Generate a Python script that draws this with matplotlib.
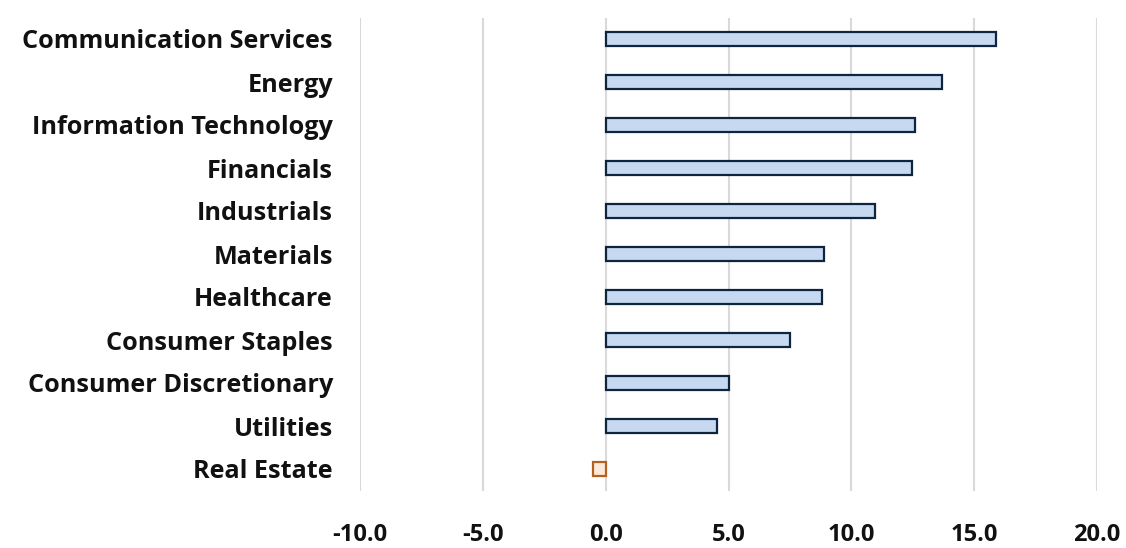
import matplotlib
matplotlib.use("Agg")
import matplotlib.pyplot as plt

categories = ["Communication Services", "Energy", "Information Technology", "Financials",
              "Industrials", "Materials", "Healthcare", "Consumer Staples",
              "Consumer Discretionary", "Utilities", "Real Estate"]
values = [15.9, 13.7, 12.6, 12.45, 10.95, 8.9, 8.8, 7.5, 5.0, 4.55, -0.5]
xticks = [-10, -5, 0, 5, 10, 15, 20]
xticklabels = ["-10.0", "-5.0", "0.0", "5.0", "10.0", "15.0", "20.0"]

plt.rcParams['font.family'] = ['Open Sans', 'DejaVu Sans']

fig = plt.figure(figsize=(11.26, 5.48), dpi=100)
ax = fig.add_axes([360/1126, 1-490.5/548, (1097-360)/1126, (490.5-17.5)/548])

pos = list(range(len(categories)))
faces = ["#C6D9F1" if v >= 0 else "#FDE9D9" for v in values]
edges = ["#0F243E" if v >= 0 else "#B4601E" for v in values]
ax.barh(pos, values, height=0.32, color=faces, edgecolor=edges, linewidth=1.6, zorder=3)

ax.set_xlim(-10, 20)
ax.set_ylim(len(categories) - 0.5, -0.5)
ax.set_xticks(xticks)
ax.set_xticklabels(xticklabels)
ax.set_yticks(pos)
ax.set_yticklabels(categories)
ax.xaxis.grid(True, color="#D9D9D9", linewidth=1.5, zorder=0)
ax.set_axisbelow(True)
for s in ax.spines.values():
    s.set_visible(False)
ax.tick_params(axis='both', length=0, colors="#111111")
ax.tick_params(axis='x', pad=23.5, labelsize=17)
ax.tick_params(axis='y', pad=19.5, labelsize=18.2)
for lbl in ax.get_xticklabels() + ax.get_yticklabels():
    lbl.set_fontweight('bold')

fig.savefig("out.png", dpi=100)
